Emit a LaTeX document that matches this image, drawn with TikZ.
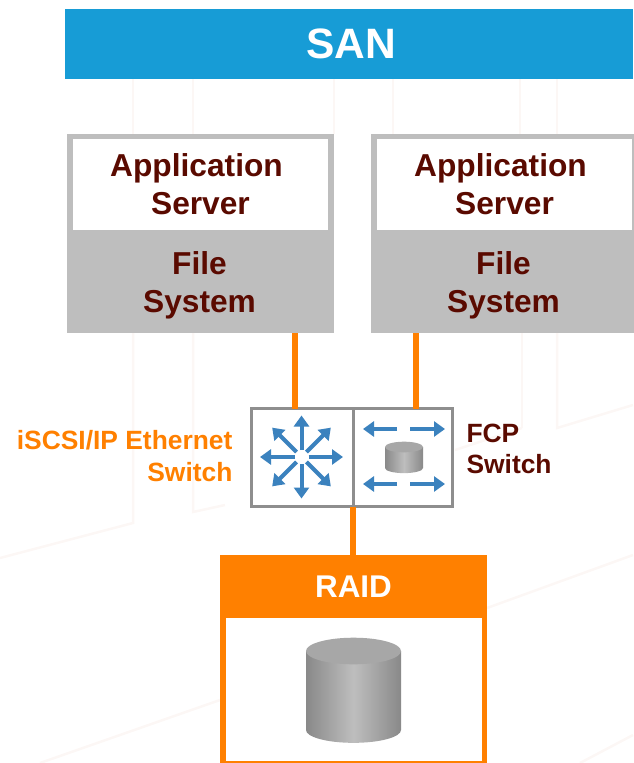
\documentclass[tikz,border=0pt]{standalone}
\usepackage{fontspec}
\setmainfont{Liberation Sans}
\usetikzlibrary{arrows.meta}
\definecolor{sanblue}{HTML}{179CD6}
\definecolor{wireorange}{HTML}{FF8000}
\definecolor{darkred}{HTML}{5A0A00}
\definecolor{boxgray}{HTML}{BEBEBE}
\definecolor{switchgray}{HTML}{8E8E8E}
\definecolor{arrowblue}{HTML}{3B82BE}
\definecolor{ghostline}{HTML}{FCF7F5}
\tikzset{
  wire/.style={draw=wireorange,line width=6pt},
  bluearrow/.style={draw=arrowblue,line width=4pt,-{Triangle[length=11pt,width=15pt]}},
  ghost/.style={draw=ghostline,line width=2.5pt},
  apptext/.style={text=darkred,font=\fontsize{31.7}{38}\selectfont\bfseries,align=center},
  labeltext/.style={font=\fontsize{26.4}{31.5}\selectfont\bfseries}
}
\newcommand{\drawdrum}[5]{%
  \shade[left color=#5!72!black,right color=#5!72!black,middle color=#5]
    (#1-#4,#2) -- (#1-#4,#3) arc[start angle=180,end angle=0,x radius=#4,y radius=0.27*#4]
    -- (#1+#4,#2) -- cycle;
  \fill[#5!88!black] (#1,#2) ellipse[x radius=#4,y radius=0.28*#4];
}
\begin{document}
\begin{tikzpicture}[x=1pt,y=-1pt]
  \useasboundingbox (0,0) rectangle (633,763);
  % faint backdrop
  \draw[ghost] (133,79) -- (133,134);
  \draw[ghost] (193,79) -- (193,134);
  \draw[ghost] (334,79) -- (334,134);
  \draw[ghost] (393,79) -- (393,134);
  \draw[ghost] (520,79) -- (520,134);
  \draw[ghost] (557,79) -- (557,134);
  \draw[ghost] (133,333) -- (133,523) -- (0,558);
  \draw[ghost] (193,333) -- (193,512) -- (225,505);
  \draw[ghost] (522,333) -- (522,428);
  \draw[ghost] (557,333) -- (557,428) -- (633,405);
  \draw[ghost] (455,450) -- (522,428);
  \draw[ghost] (487,608) -- (633,555);
  \draw[ghost] (220,700) -- (40,763);
  \draw[ghost] (580,763) -- (633,735);
  % banner
  \node[fill=sanblue,text=white,minimum width=568pt,minimum height=70pt,inner sep=0pt,
        font=\fontsize{42.5}{44}\selectfont\bfseries] (san) at (349,44) {\hspace{5pt}SAN};
  % servers
  \foreach \name/\xc in {one/200.5,two/504.5} {
    \node[fill=boxgray,minimum width=267pt,minimum height=199pt,inner sep=0pt] (box\name) at (\xc,233.5) {};
    \node[fill=white,minimum width=255pt,minimum height=91pt,inner sep=0pt] (app\name) at (\xc,184.5) {};
    \node[apptext] (apptext\name) at (\xc-4,184.5) {Application\\ \hspace{8pt}Server};
    \node[apptext] (fs\name) at (\xc-1,285) {File\\System};
  }
  % switch
  \node[draw=switchgray,fill=white,line width=3pt,outer sep=0pt,minimum width=101.5pt,minimum height=98pt,inner sep=0pt] (swleft) at (302.25,457.5) {};
  \node[draw=switchgray,fill=white,line width=3pt,outer sep=0pt,minimum width=99.5pt,minimum height=98pt,inner sep=0pt] (swright) at (402.75,457.5) {};
  \coordinate (hub) at (301.5,457);
  \foreach \ang in {0,45,...,315} {
    \draw[bluearrow] (hub) ++(\ang:7) -- ++(\ang:34.5);
  }
  \foreach \yy in {429,484} {
    \draw[bluearrow] (397,\yy) -- (363,\yy);
    \draw[bluearrow] (410,\yy) -- (445,\yy);
  }
  \drawdrum{404}{447}{468}{19}{boxgray}
  % raid
  \node[fill=wireorange,minimum width=267pt,minimum height=208pt,inner sep=0pt] (raid) at (353.5,659) {};
  \node[fill=white,minimum width=256pt,minimum height=143pt,inner sep=0pt] (raidbay) at (354,689.5) {};
  \node[text=white,font=\fontsize{31.4}{36}\selectfont\bfseries] (raidtext) at (353.5,587) {RAID};
  \drawdrum{353.5}{651}{730}{47.5}{boxgray}
  % links
  \draw[wire] ([xshift=-7.25pt]swleft.north) -- ([xshift=-7.25pt]swleft.north |- boxone.south);
  \draw[wire] ([xshift=13.25pt]swright.north) -- ([xshift=13.25pt]swright.north |- boxtwo.south);
  \draw[wire] (swleft.south east) -- (swleft.south east |- raid.north);
  % labels
  \node[labeltext,text=wireorange,align=right,anchor=east] (ethlabel) at (236,456) {iSCSI/IP Ethernet\\Switch};
  \node[labeltext,text=darkred,align=left,anchor=west] (fcplabel) at (463,449) {FCP\\Switch};
\end{tikzpicture}
\end{document}
